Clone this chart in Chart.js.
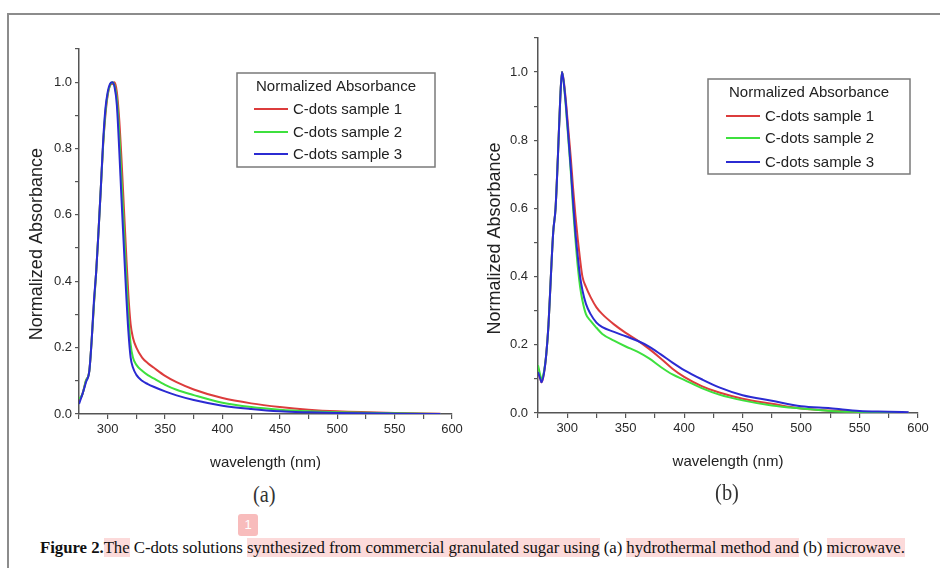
<!DOCTYPE html>
<html lang="en">
<head>
<meta charset="UTF-8">
<title>C-dots absorbance</title>
<script src="https://cdn.jsdelivr.net/npm/chart.js"></script>
<style>
    html, body { margin: 0; padding: 0; background: #fff; }
    body { width: 940px; height: 568px; position: relative; overflow: hidden; font-family: 'Liberation Sans', Arial, sans-serif; }
    .frame { position: absolute; left: 7px; top: 13px; width: 1000px; height: 600px; border-top: 2px solid #8c8c8c; border-left: 2px solid #8c8c8c; }
    .panel { position: absolute; top: 0; width: 470px; height: 480px; }
    #panelA { left: 0; }
    #panelB { left: 470px; }
    .sub { position: absolute; font-family: 'Liberation Serif', serif; font-size: 24px; color: #333; transform: scaleX(0.85); }
    #caption { position: absolute; left: 40px; top: 538px; font-family: 'Liberation Serif', serif; font-size: 16.8px; color: #111; white-space: nowrap; letter-spacing: -0.04px; }
    #caption .hl { background: #fcdada; }
    .badge { position: absolute; left: 238px; top: 514px; width: 20px; height: 22px; border-radius: 3px; background: #f8bcbc; color: #fff; font-size: 13px; text-align: center; line-height: 22px; }
</style>
</head>
<body>
<div class="frame"></div>
<div class="panel" id="panelA"><canvas id="chartA" width="470" height="480"></canvas></div>
<div class="panel" id="panelB"><canvas id="chartB" width="470" height="480"></canvas></div>
<div class="sub" style="left:251px; top:481px;">(a)</div>
<div class="sub" style="left:713px; top:479px;">(b)</div>
<div class="badge">1</div>
<div id="caption"><b>Figure 2.</b><span class="hl">The</span> C-dots solutions <span class="hl">synthesized from commercial granulated sugar using</span> (a) <span class="hl">hydrothermal method and</span> (b) <span class="hl">microwave.</span></div>
<script>
// --- data ---
const sampleLabels = ['C-dots sample 1', 'C-dots sample 2', 'C-dots sample 3'];
const sampleColors = ['#dc3c3c', '#3ee03e', '#2b2bd2'];
const legendTitle = 'Normalized Absorbance';
const yTitle = 'Normalized Absorbance';
const xTitle = 'wavelength (nm)';

// (a) hydrothermal
const waveA = [275, 278, 281, 284, 286, 288, 290, 292, 294, 296, 298, 300, 302, 304, 306, 308, 310, 312, 314, 316, 318, 320, 322, 325, 330, 335, 340, 350, 360, 375, 400, 425, 450, 475, 500, 550, 590];
const a1 = [0.04, 0.06, 0.10, 0.13, 0.22, 0.33, 0.43, 0.55, 0.68, 0.81, 0.90, 0.96, 0.99, 0.995, 1.0, 0.97, 0.89, 0.77, 0.63, 0.49, 0.36, 0.27, 0.23, 0.20, 0.17, 0.153, 0.14, 0.115, 0.096, 0.074, 0.048, 0.032, 0.021, 0.013, 0.008, 0.003, 0.001];
const a2 = [0.045, 0.06, 0.10, 0.13, 0.22, 0.33, 0.43, 0.55, 0.68, 0.81, 0.91, 0.965, 0.99, 1.0, 0.99, 0.95, 0.85, 0.71, 0.57, 0.43, 0.30, 0.21, 0.17, 0.148, 0.13, 0.117, 0.107, 0.088, 0.073, 0.057, 0.034, 0.021, 0.013, 0.008, 0.005, 0.002, 0.0];
const a3 = [0.03, 0.06, 0.095, 0.13, 0.22, 0.34, 0.43, 0.55, 0.68, 0.82, 0.92, 0.97, 0.995, 1.0, 0.985, 0.93, 0.80, 0.65, 0.51, 0.37, 0.25, 0.17, 0.14, 0.118, 0.10, 0.09, 0.082, 0.068, 0.056, 0.042, 0.025, 0.015, 0.008, 0.005, 0.003, 0.001, 0.0];

// (b) microwave
const waveB = [275, 277, 278, 280, 282, 284, 286, 288, 290, 292, 294, 295.5, 297, 299, 301, 303, 305, 307, 309, 311, 313, 316, 320, 325, 330, 340, 350, 360, 370, 380, 390, 400, 415, 430, 450, 475, 500, 525, 550, 575, 592];
const b1 = [0.12, 0.10, 0.09, 0.115, 0.17, 0.26, 0.40, 0.53, 0.60, 0.75, 0.92, 1.0, 0.975, 0.91, 0.83, 0.75, 0.66, 0.58, 0.51, 0.45, 0.40, 0.37, 0.34, 0.31, 0.29, 0.26, 0.235, 0.213, 0.188, 0.16, 0.13, 0.106, 0.079, 0.06, 0.042, 0.027, 0.013, 0.007, 0.003, 0.001, 0.001];
const b2 = [0.14, 0.11, 0.10, 0.12, 0.17, 0.26, 0.40, 0.53, 0.60, 0.75, 0.92, 1.0, 0.97, 0.89, 0.80, 0.71, 0.60, 0.51, 0.43, 0.37, 0.33, 0.29, 0.27, 0.25, 0.232, 0.212, 0.195, 0.18, 0.16, 0.135, 0.113, 0.097, 0.073, 0.054, 0.037, 0.022, 0.013, 0.006, 0.003, 0.001, 0.0];
const b3 = [0.12, 0.10, 0.09, 0.115, 0.17, 0.26, 0.40, 0.53, 0.60, 0.75, 0.92, 1.0, 0.97, 0.90, 0.81, 0.72, 0.62, 0.53, 0.46, 0.40, 0.36, 0.32, 0.29, 0.265, 0.252, 0.238, 0.225, 0.212, 0.195, 0.172, 0.148, 0.126, 0.099, 0.075, 0.052, 0.036, 0.02, 0.014, 0.006, 0.004, 0.002];

const yTicksShown = [0, 0.2, 0.4, 0.6, 0.8, 1.0];
const xTicksShown = [300, 350, 400, 450, 500, 550, 600];

const FONT = "'Liberation Sans', Arial, sans-serif";
const AXIS = '#555';

// legend box drawn inside the plot, like the original Origin figure
const boxLegend = {
    id: 'boxLegend',
    afterDraw(chart, args, o) {
        const ctx = chart.ctx;
        ctx.save();
        ctx.strokeStyle = '#7a7a7a';
        ctx.lineWidth = 1.5;
        ctx.strokeRect(o.left, o.top, o.width, o.height);
        ctx.font = '15px ' + FONT;
        ctx.fillStyle = '#222';
        ctx.textBaseline = 'middle';
        ctx.textAlign = 'center';
        ctx.fillText(legendTitle, o.left + o.width / 2, o.top + 14);
        ctx.textAlign = 'left';
        chart.data.datasets.forEach((ds, i) => {
            const y = o.top + o.rows[i];
            ctx.strokeStyle = ds.borderColor;
            ctx.lineWidth = 2;
            ctx.beginPath();
            ctx.moveTo(o.left + o.line0, y);
            ctx.lineTo(o.left + o.line1, y);
            ctx.stroke();
            ctx.fillStyle = '#222';
            ctx.fillText(ds.label, o.left + o.line1 + 5, y + 1);
        });
        ctx.restore();
    }
};

// vertical axis title centred on the 0..1 range
const yTitlePlugin = {
    id: 'yTitleDraw',
    afterDraw(chart, args, o) {
        const ctx = chart.ctx;
        ctx.save();
        ctx.translate(o.x, chart.scales.y.getPixelForValue(0.5) - 4);
        ctx.rotate(-Math.PI / 2);
        ctx.font = '18px ' + FONT;
        ctx.fillStyle = '#222';
        ctx.textAlign = 'center';
        ctx.textBaseline = 'middle';
        ctx.fillText(yTitle, 0, 0);
        ctx.restore();
    }
};

function makeChart(id, wave, series, cfg) {
    const datasets = series.map((vals, i) => ({
        label: sampleLabels[i],
        data: wave.map((w, k) => ({ x: w, y: vals[k] })),
        borderColor: sampleColors[i],
        borderWidth: 2,
        pointRadius: 0,
        cubicInterpolationMode: 'monotone',
        order: 3 - i
    }));
    return new Chart(document.getElementById(id), {
        type: 'line',
        data: { datasets },
        plugins: [boxLegend, yTitlePlugin],
        options: {
            responsive: false,
            animation: false,
            layout: { padding: { left: 0, right: cfg.padRight, top: cfg.padTop, bottom: cfg.padBottom } },
            plugins: {
                legend: { display: false },
                tooltip: { enabled: false },
                boxLegend: cfg.legend,
                yTitleDraw: { x: cfg.yTitleX }
            },
            scales: {
                x: {
                    type: 'linear', min: 275, max: 600,
                    ticks: {
                        stepSize: 25, autoSkip: false, maxRotation: 0, color: '#2a2a2a', padding: 3,
                        font: { family: FONT, size: 13 },
                        callback: v => xTicksShown.includes(v) ? String(v) : ''
                    },
                    grid: { drawOnChartArea: false, tickLength: 5, color: AXIS, lineWidth: 1.2 },
                    border: { color: AXIS, width: 1.5 },
                    title: { display: true, text: xTitle, color: '#222', font: { family: FONT, size: 15 }, padding: { top: 0, bottom: 2 } },
                    afterFit: s => { s.height = 60; }
                },
                y: {
                    min: 0, max: 1.1,
                    ticks: {
                        stepSize: 0.1, autoSkip: false, color: '#2a2a2a', padding: cfg.yTickPad,
                        font: { family: FONT, size: 13 },
                        callback: v => {
                            const r = Math.round(v * 10) / 10;
                            return yTicksShown.includes(r) ? r.toFixed(1) : '';
                        }
                    },
                    grid: { drawOnChartArea: false, tickLength: 4, color: AXIS, lineWidth: 1.2 },
                    border: { color: AXIS, width: 1.5 },
                    afterFit: s => { s.width = cfg.yWidth; }
                }
            }
        }
    });
}

makeChart('chartA', waveA, [a1, a2, a3], {
    padRight: 18, padTop: 49, padBottom: 6, yWidth: 79, yTickPad: 3, yTitleX: 37,
    legend: { left: 237, top: 73, width: 198, height: 94, rows: [36, 59, 81], line0: 17, line1: 51 }
});
makeChart('chartB', waveB, [b1, b2, b3], {
    padRight: 22, padTop: 38, padBottom: 7, yWidth: 68, yTickPad: 6, yTitleX: 25,
    legend: { left: 238, top: 79, width: 202, height: 95, rows: [37, 59, 83], line0: 18, line1: 52 }
});
</script>
</body>
</html>
